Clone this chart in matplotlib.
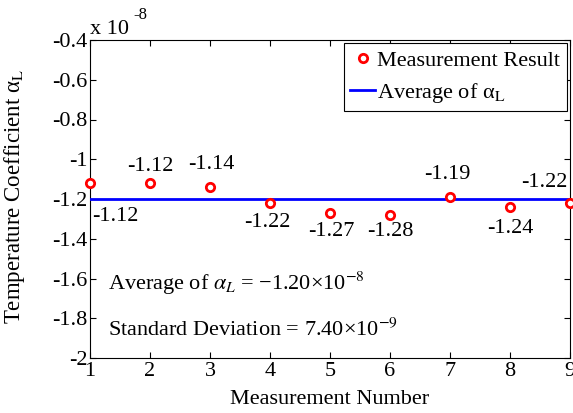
import matplotlib
matplotlib.use("Agg")
import matplotlib.pyplot as plt
import numpy as np

plt.rcParams['font.family'] = ['Liberation Serif', 'DejaVu Serif']
plt.rcParams['mathtext.fontset'] = 'stix'
plt.rcParams['axes.unicode_minus'] = False

# Data (values in units of 1e-8)
measurement = [1, 2, 3, 4, 5, 6, 7, 8, 9]
alpha_values = [-1.12, -1.12, -1.14, -1.22, -1.27, -1.28, -1.19, -1.24, -1.22]
value_labels = ['-1.12', '-1.12', '-1.14', '-1.22', '-1.27', '-1.28', '-1.19', '-1.24', '-1.22']
average_value = -1.20
xticks = [1, 2, 3, 4, 5, 6, 7, 8, 9]
yticks = [-2, -1.8, -1.6, -1.4, -1.2, -1, -0.8, -0.6, -0.4]
ytick_labels = ['-2', '-1.8', '-1.6', '-1.4', '-1.2', '-1', '-0.8', '-0.6', '-0.4']

# label offsets in pixels (dx right, dy up)
label_offsets_px = [(25, -33), (0, 17), (1, 23), (-3, -20), (1, -19), (0, -17), (-3, 23), (0, -22), (-26, 20)]

W, H = 573, 413
fig = plt.figure(figsize=(W/100, H/100), dpi=100)
ax = fig.add_axes([90/W, 1-358/H, (570-90)/W, (358-40)/H])

FS = 16

ax.plot(measurement, alpha_values, linestyle='none', marker='o', markersize=6,
        markerfacecolor='white', markeredgecolor='red', markeredgewidth=2,
        label='Measurement Result', zorder=4, clip_on=False)
ax.axhline(average_value, color='blue', linewidth=2, label=r'Average of $\mathregular{\alpha}_{\mathrm{L}}$', zorder=3)

pt = 72/100
for x, y, lab, (dx, dy) in zip(measurement, alpha_values, value_labels, label_offsets_px):
    ax.annotate(lab, (x, y), xytext=(dx*pt, dy*pt), textcoords='offset points',
                ha='center', va='center', fontsize=FS)

ax.set_xlim(1, 9)
ax.set_ylim(-2, -0.4)
ax.set_xticks(xticks)
ax.set_yticks(yticks)
ax.set_yticklabels(ytick_labels)
ax.tick_params(direction='in', top=True, right=True, labelsize=FS, length=4, width=0.8, pad=2)
ax.tick_params(axis='x', pad=3)
for s in ax.spines.values():
    s.set_linewidth(0.8)

fig.text(230/W, 1-400/H, 'Measurement Number', fontsize=FS, ha='left', va='center')
fig.text(15/W, 1-196/H, r'Temperature Coefficient $\mathregular{\alpha}_{\mathrm{L}}$', fontsize=16.5,
         ha='center', va='center', rotation=90)

fig.text(90/W, 1-30/H, 'x 10', fontsize=FS, ha='left', va='center')
fig.text(133/W, 1-15/H, '-8', fontsize=12, ha='left', va='center')

fig.text(108/W, 1-283/H, 'Average of $\\alpha_{L}$ = \u22121.20\u00d710$^{-8}$', fontsize=FS,
         ha='left', va='center')
fig.text(108/W, 1-330/H, 'Standard Deviation = 7.40\u00d710$^{-9}$', fontsize=FS,
         ha='left', va='center')

leg = ax.legend(loc='upper right', bbox_to_anchor=(1.0, 1.0), fontsize=FS, fancybox=False,
                edgecolor='black', framealpha=1, borderaxespad=0.15, handlelength=1.1,
                handletextpad=0.1, labelspacing=0.45, borderpad=0.3)
leg.get_frame().set_linewidth(0.8)

fig.savefig('out.png', dpi=100)
